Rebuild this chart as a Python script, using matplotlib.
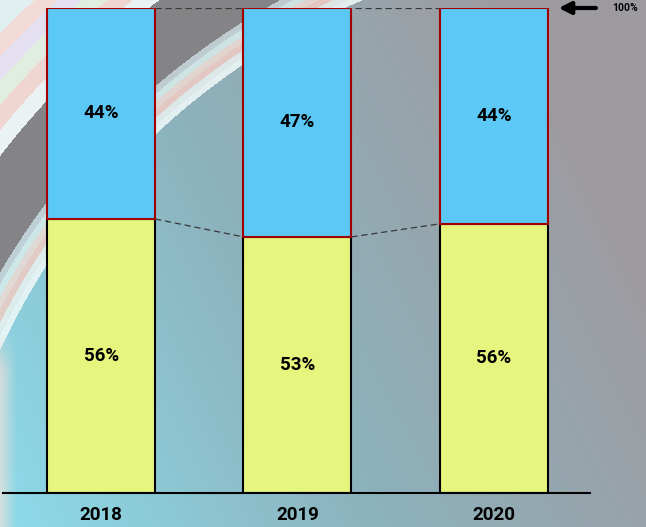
import numpy as np
import matplotlib.pyplot as plt

years = ['2018', '2019', '2020']
yellow_share = [56.5, 52.8, 55.5]
blue_share = [100 - v for v in yellow_share]
yellow_labels = ['56%', '53%', '56%']
blue_labels = ['44%', '47%', '44%']

W, H = 646, 527
fig = plt.figure(figsize=(W / 100, H / 100), dpi=100)

# background picture (gradient with two pastel arcs)
yy, xx = np.mgrid[0:H, 0:W].astype(float)
u = xx / W
v = yy / H
left = np.array([0.55, 0.86, 0.92])
mid = np.array([0.55, 0.70, 0.74])
right = np.array([0.62, 0.61, 0.63])
t = np.clip(u * 0.85 + (1 - v) * 0.35, 0, 1)[..., None]
bg = np.where(t < 0.5, left + (mid - left) * (t / 0.5), mid + (right - mid) * ((t - 0.5) / 0.5))

d = np.hypot(xx - 630, yy - 640)
grey = np.array([0.52, 0.52, 0.53])
bg[d > 730] = grey
# inner band: white edge then pastel stripes
stripes = [(0.95, 0.98, 0.98), (0.92, 0.95, 0.94), (0.95, 0.80, 0.77),
           (0.94, 0.86, 0.83), (0.85, 0.93, 0.92), (0.78, 0.82, 0.84)]
for k, c in enumerate(stripes):
    m = (d > 694 + k * 6) & (d <= 700 + k * 6)
    bg[m] = bg[m] * 0.15 + np.array(c) * 0.85
outer = [(0.92, 0.95, 0.96), (0.94, 0.84, 0.82), (0.88, 0.93, 0.88),
         (0.90, 0.88, 0.94), (0.95, 0.86, 0.84), (0.88, 0.94, 0.95)]
for k, c in enumerate(outer):
    m = (d > 795 + k * 16) & (d <= 811 + k * 16)
    bg[m] = np.array(c)
bg[d > 891] = np.array(outer[-1])
# soft pastel fringe down the left edge
a = (np.clip(1 - xx / 16, 0, 1) * np.clip((yy - 330) / 40, 0, 1))[..., None] * 0.7
bg = bg * (1 - a) + np.array([0.94, 0.88, 0.85]) * a

bax = fig.add_axes([0, 0, 1, 1], zorder=0)
bax.imshow(bg, aspect='auto', extent=(0, W, H, 0), interpolation='bilinear')
bax.axis('off')

ax = fig.add_axes([3 / W, (H - 493) / H, 587 / W, 485 / H], zorder=1)
ax.patch.set_alpha(0)
x = np.arange(len(years))
width = 0.55

ax.bar(x, yellow_share, width, color='#e6f57e', edgecolor='black', linewidth=1.5)
ax.bar(x, blue_share, width, bottom=yellow_share, color='#5bc8f5',
       edgecolor='#a00000', linewidth=1.5)

font = dict(fontsize=13.5, fontweight='bold', family='Roboto')
for i in range(len(years)):
    ax.text(x[i], yellow_share[i] / 2, yellow_labels[i], ha='center', va='center', **font)
    ax.text(x[i], yellow_share[i] + blue_share[i] / 2, blue_labels[i],
            ha='center', va='center', **font)

# dashed connectors between bars
for i in range(len(years) - 1):
    ax.plot([x[i] + width / 2, x[i + 1] - width / 2], [yellow_share[i], yellow_share[i + 1]],
            ls=(0, (5, 3)), color='#383838', lw=0.9, zorder=0.5)
ax.plot([x[0] + width / 2, x[-1] - width / 2], [100, 100], ls=(0, (5, 3)),
        color='#383838', lw=0.9, zorder=0.5)

ax.set_xlim(-0.5, 2.49)
ax.set_ylim(0, 100)
for s in ['top', 'right', 'left']:
    ax.spines[s].set_visible(False)
ax.spines['bottom'].set_linewidth(1.5)
ax.set_yticks([])
ax.set_xticks(x)
ax.set_xticklabels(years, **font)
ax.tick_params(axis='x', length=0, pad=9)

ax.annotate('', xy=(2.33, 100), xytext=(2.52, 100), xycoords='data',
            arrowprops=dict(arrowstyle='-|>', color='black', lw=3,
                            mutation_scale=18, shrinkA=0, shrinkB=0),
            annotation_clip=False)
ax.text(2.605, 100, '100%', fontsize=7.5, fontweight='bold', family='Roboto',
        ha='left', va='center', clip_on=False)

fig.savefig('out.png', dpi=100)
